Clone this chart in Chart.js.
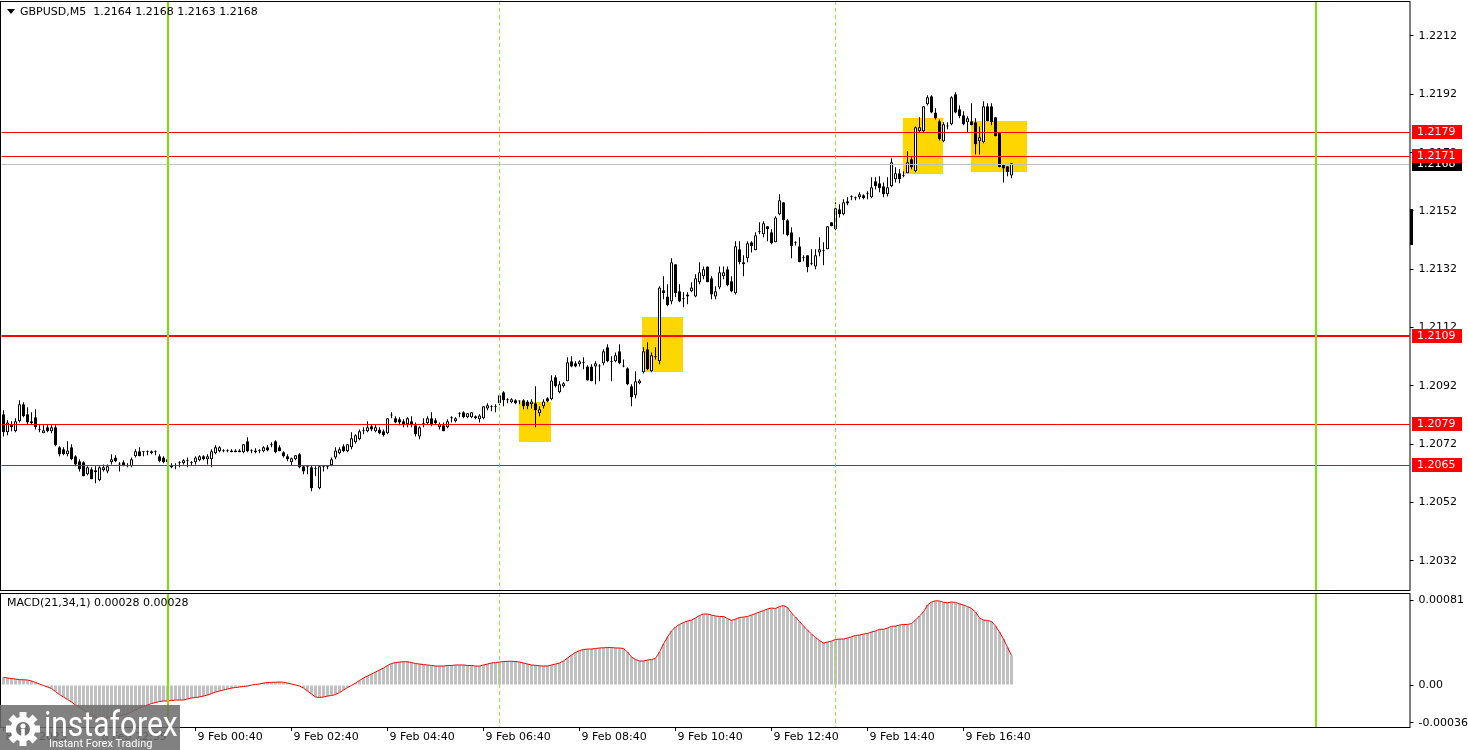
<!DOCTYPE html>
<html>
<head>
<meta charset="utf-8">
<script src="https://cdn.jsdelivr.net/npm/chart.js@4"></script>
<style>
  body { margin: 0; background: #fff; }
  #wrap { position: relative; width: 1468px; height: 750px; overflow: hidden; }
  canvas { position: absolute; left: 0; }
  #main { top: 0; }
  #macd { top: 591px; }
</style>
</head>
<body>
<div id="wrap">
  <canvas id="main" width="1468" height="591"></canvas>
  <canvas id="macd" width="1468" height="159"></canvas>
</div>
<script>
// GBPUSD M5 candles (one slot = one 5 min bar)
const SLOTS = 352;

const opens = [
  1.20823, 1.20761, 1.20789, 1.20765, 1.20799, 1.20857, 1.20823, 1.20792, 1.20813, 1.20768,
  1.20758, 1.20778, 1.20765, 1.20778, 1.20710, 1.20703, 1.20686, 1.20710, 1.20679, 1.20662,
  1.20658, 1.20617, 1.20634, 1.20631, 1.20597, 1.20631, 1.20627, 1.20658, 1.20675, 1.20651,
  1.20658, 1.20645, 1.20645, 1.20679, 1.20696, 1.20693, 1.20693, 1.20689, 1.20693, 1.20679,
  1.20675, 1.20669, 1.20648, 1.20645, 1.20655, 1.20655, 1.20662, 1.20655, 1.20658, 1.20665,
  1.20679, 1.20669, 1.20669, 1.20689, 1.20696, 1.20696, 1.20696, 1.20699, 1.20699, 1.20699,
  1.20693, 1.20730, 1.20696, 1.20693, 1.20696, 1.20696, 1.20710, 1.20717, 1.20730, 1.20710,
  1.20693, 1.20679, 1.20658, 1.20669, 1.20686, 1.20645, 1.20641, 1.20641, 1.20634, 1.20569,
  1.20641, 1.20641, 1.20648, 1.20675, 1.20689, 1.20713, 1.20696, 1.20710, 1.20727, 1.20737,
  1.20765, 1.20765, 1.20782, 1.20765, 1.20771, 1.20765, 1.20758, 1.20819, 1.20809, 1.20806,
  1.20799, 1.20789, 1.20799, 1.20785, 1.20747, 1.20789, 1.20792, 1.20809, 1.20802, 1.20778,
  1.20785, 1.20778, 1.20809, 1.20799, 1.20823, 1.20830, 1.20813, 1.20813, 1.20816, 1.20806,
  1.20809, 1.20843, 1.20847, 1.20847, 1.20861, 1.20898, 1.20871, 1.20864, 1.20871, 1.20867,
  1.20871, 1.20867, 1.20857, 1.20861, 1.20826, 1.20850, 1.20878, 1.20874, 1.20950, 1.20898,
  1.20919, 1.20936, 1.21005, 1.20998, 1.20994, 1.20998, 1.20987, 1.20987, 1.20987, 1.20987,
  1.20998, 1.21053, 1.21001, 1.21005, 1.21039, 1.20987, 1.20981, 1.20919, 1.20888, 1.20929,
  1.20967, 1.21046, 1.20970, 1.21018, 1.21005, 1.21248, 1.21227, 1.21210, 1.21337, 1.21245,
  1.21217, 1.21227, 1.21245, 1.21227, 1.21276, 1.21296, 1.21330, 1.21289, 1.21227, 1.21258,
  1.21296, 1.21320, 1.21279, 1.21238, 1.21389, 1.21337, 1.21358, 1.21413, 1.21385, 1.21447,
  1.21440, 1.21468, 1.21447, 1.21413, 1.21509, 1.21550, 1.21488, 1.21447, 1.21409, 1.21399,
  1.21358, 1.21368, 1.21337, 1.21330, 1.21378, 1.21382, 1.21389, 1.21481, 1.21457, 1.21526,
  1.21509, 1.21553, 1.21567, 1.21564, 1.21567, 1.21574, 1.21577, 1.21567, 1.21622, 1.21615,
  1.21605, 1.21577, 1.21605, 1.21629, 1.21649, 1.21639, 1.21649, 1.21697, 1.21656, 1.21793,
  1.21793, 1.21886, 1.21913, 1.21858, 1.21828, 1.21759, 1.21810, 1.21817, 1.21920, 1.21869,
  1.21848, 1.21824, 1.21828, 1.21824, 1.21759, 1.21756, 1.21879, 1.21879, 1.21841, 1.21790,
  1.21680, 1.21673, 1.21642
];
const highs = [
  1.20837, 1.20802, 1.20799, 1.20809, 1.20871, 1.20864, 1.20847, 1.20830, 1.20840, 1.20785,
  1.20785, 1.20785, 1.20785, 1.20785, 1.20713, 1.20710, 1.20730, 1.20720, 1.20682, 1.20669,
  1.20662, 1.20645, 1.20641, 1.20645, 1.20645, 1.20651, 1.20651, 1.20686, 1.20682, 1.20658,
  1.20665, 1.20655, 1.20675, 1.20703, 1.20710, 1.20696, 1.20699, 1.20699, 1.20699, 1.20686,
  1.20679, 1.20675, 1.20655, 1.20655, 1.20662, 1.20669, 1.20675, 1.20662, 1.20679, 1.20682,
  1.20682, 1.20686, 1.20703, 1.20717, 1.20713, 1.20703, 1.20703, 1.20703, 1.20703, 1.20703,
  1.20720, 1.20744, 1.20703, 1.20706, 1.20703, 1.20713, 1.20717, 1.20727, 1.20734, 1.20717,
  1.20696, 1.20686, 1.20675, 1.20682, 1.20689, 1.20648, 1.20645, 1.20648, 1.20645, 1.20648,
  1.20648, 1.20648, 1.20675, 1.20710, 1.20710, 1.20720, 1.20720, 1.20761, 1.20754, 1.20771,
  1.20778, 1.20799, 1.20789, 1.20789, 1.20778, 1.20771, 1.20809, 1.20830, 1.20816, 1.20813,
  1.20806, 1.20813, 1.20816, 1.20795, 1.20782, 1.20809, 1.20816, 1.20830, 1.20809, 1.20795,
  1.20795, 1.20806, 1.20816, 1.20813, 1.20830, 1.20833, 1.20826, 1.20830, 1.20819, 1.20823,
  1.20850, 1.20861, 1.20854, 1.20857, 1.20895, 1.20902, 1.20878, 1.20878, 1.20874, 1.20871,
  1.20874, 1.20871, 1.20874, 1.20919, 1.20850, 1.20874, 1.20881, 1.20957, 1.20957, 1.20936,
  1.20933, 1.21018, 1.21022, 1.21005, 1.21008, 1.21018, 1.20991, 1.20994, 1.21005, 1.20994,
  1.21046, 1.21063, 1.21022, 1.21035, 1.21063, 1.21011, 1.20984, 1.20926, 1.20970, 1.20943,
  1.21053, 1.21070, 1.21035, 1.21053, 1.21262, 1.21296, 1.21269, 1.21358, 1.21337, 1.21269,
  1.21241, 1.21241, 1.21276, 1.21303, 1.21344, 1.21330, 1.21330, 1.21296, 1.21262, 1.21330,
  1.21330, 1.21330, 1.21296, 1.21416, 1.21416, 1.21368, 1.21416, 1.21416, 1.21447, 1.21481,
  1.21485, 1.21468, 1.21457, 1.21502, 1.21577, 1.21550, 1.21492, 1.21464, 1.21416, 1.21430,
  1.21368, 1.21368, 1.21389, 1.21389, 1.21430, 1.21413, 1.21468, 1.21481, 1.21550, 1.21543,
  1.21560, 1.21567, 1.21574, 1.21570, 1.21584, 1.21577, 1.21588, 1.21636, 1.21636, 1.21639,
  1.21618, 1.21636, 1.21701, 1.21670, 1.21663, 1.21656, 1.21725, 1.21704, 1.21810, 1.21841,
  1.21879, 1.21917, 1.21917, 1.21872, 1.21834, 1.21824, 1.21824, 1.21913, 1.21927, 1.21882,
  1.21862, 1.21845, 1.21889, 1.21838, 1.21810, 1.21896, 1.21889, 1.21889, 1.21841, 1.21790,
  1.21680, 1.21673, 1.21684
];
const lows = [
  1.20747, 1.20751, 1.20765, 1.20761, 1.20795, 1.20813, 1.20789, 1.20789, 1.20771, 1.20761,
  1.20758, 1.20761, 1.20758, 1.20713, 1.20679, 1.20682, 1.20679, 1.20665, 1.20645, 1.20627,
  1.20610, 1.20614, 1.20600, 1.20586, 1.20593, 1.20627, 1.20621, 1.20651, 1.20658, 1.20627,
  1.20645, 1.20641, 1.20641, 1.20675, 1.20679, 1.20679, 1.20682, 1.20686, 1.20682, 1.20658,
  1.20655, 1.20655, 1.20638, 1.20634, 1.20641, 1.20651, 1.20641, 1.20648, 1.20651, 1.20662,
  1.20665, 1.20651, 1.20641, 1.20686, 1.20693, 1.20693, 1.20693, 1.20693, 1.20693, 1.20693,
  1.20689, 1.20693, 1.20689, 1.20689, 1.20689, 1.20693, 1.20696, 1.20710, 1.20689, 1.20696,
  1.20675, 1.20662, 1.20648, 1.20665, 1.20638, 1.20617, 1.20617, 1.20559, 1.20610, 1.20566,
  1.20627, 1.20634, 1.20645, 1.20669, 1.20686, 1.20693, 1.20693, 1.20703, 1.20723, 1.20734,
  1.20754, 1.20761, 1.20765, 1.20761, 1.20754, 1.20747, 1.20754, 1.20809, 1.20792, 1.20785,
  1.20778, 1.20778, 1.20778, 1.20747, 1.20737, 1.20778, 1.20789, 1.20782, 1.20789, 1.20771,
  1.20765, 1.20775, 1.20795, 1.20795, 1.20813, 1.20809, 1.20809, 1.20809, 1.20806, 1.20795,
  1.20806, 1.20837, 1.20833, 1.20830, 1.20854, 1.20850, 1.20861, 1.20861, 1.20857, 1.20857,
  1.20840, 1.20840, 1.20843, 1.20778, 1.20816, 1.20843, 1.20864, 1.20871, 1.20915, 1.20895,
  1.20915, 1.20936, 1.20984, 1.20984, 1.20987, 1.20977, 1.20939, 1.20936, 1.20926, 1.20936,
  1.20991, 1.21001, 1.20936, 1.21001, 1.20994, 1.20984, 1.20922, 1.20850, 1.20878, 1.20926,
  1.20963, 1.20974, 1.20967, 1.21011, 1.20994, 1.21217, 1.21193, 1.21200, 1.21224, 1.21207,
  1.21190, 1.21200, 1.21241, 1.21224, 1.21269, 1.21286, 1.21276, 1.21217, 1.21217, 1.21252,
  1.21286, 1.21262, 1.21241, 1.21234, 1.21337, 1.21296, 1.21344, 1.21378, 1.21385, 1.21440,
  1.21430, 1.21416, 1.21406, 1.21413, 1.21505, 1.21440, 1.21433, 1.21358, 1.21402, 1.21344,
  1.21348, 1.21310, 1.21334, 1.21320, 1.21365, 1.21334, 1.21389, 1.21468, 1.21454, 1.21498,
  1.21505, 1.21540, 1.21557, 1.21557, 1.21560, 1.21560, 1.21560, 1.21564, 1.21594, 1.21584,
  1.21567, 1.21570, 1.21601, 1.21618, 1.21615, 1.21636, 1.21649, 1.21663, 1.21653, 1.21790,
  1.21790, 1.21882, 1.21855, 1.21834, 1.21762, 1.21756, 1.21800, 1.21814, 1.21855, 1.21838,
  1.21814, 1.21790, 1.21814, 1.21714, 1.21714, 1.21752, 1.21828, 1.21814, 1.21776, 1.21670,
  1.21618, 1.21639, 1.21632
];
const closes = [
  1.20761, 1.20795, 1.20778, 1.20799, 1.20857, 1.20816, 1.20795, 1.20799, 1.20778, 1.20768,
  1.20768, 1.20765, 1.20778, 1.20717, 1.20686, 1.20686, 1.20699, 1.20669, 1.20651, 1.20634,
  1.20610, 1.20641, 1.20600, 1.20624, 1.20641, 1.20641, 1.20645, 1.20669, 1.20662, 1.20651,
  1.20648, 1.20645, 1.20669, 1.20696, 1.20679, 1.20693, 1.20693, 1.20696, 1.20693, 1.20662,
  1.20658, 1.20658, 1.20641, 1.20645, 1.20655, 1.20665, 1.20662, 1.20655, 1.20675, 1.20679,
  1.20669, 1.20679, 1.20696, 1.20710, 1.20710, 1.20696, 1.20696, 1.20693, 1.20693, 1.20693,
  1.20720, 1.20696, 1.20696, 1.20699, 1.20696, 1.20710, 1.20699, 1.20717, 1.20693, 1.20696,
  1.20679, 1.20669, 1.20672, 1.20682, 1.20641, 1.20627, 1.20641, 1.20569, 1.20634, 1.20645,
  1.20641, 1.20641, 1.20669, 1.20699, 1.20703, 1.20696, 1.20720, 1.20741, 1.20751, 1.20765,
  1.20765, 1.20778, 1.20771, 1.20778, 1.20758, 1.20751, 1.20809, 1.20819, 1.20795, 1.20795,
  1.20789, 1.20809, 1.20785, 1.20754, 1.20778, 1.20789, 1.20809, 1.20789, 1.20792, 1.20789,
  1.20765, 1.20799, 1.20809, 1.20809, 1.20823, 1.20813, 1.20826, 1.20830, 1.20809, 1.20819,
  1.20850, 1.20854, 1.20847, 1.20847, 1.20888, 1.20871, 1.20871, 1.20874, 1.20861, 1.20867,
  1.20850, 1.20850, 1.20867, 1.20837, 1.20840, 1.20867, 1.20867, 1.20939, 1.20919, 1.20926,
  1.20929, 1.21001, 1.20987, 1.20987, 1.21005, 1.20998, 1.20939, 1.20936, 1.20998, 1.20987,
  1.21039, 1.21005, 1.21001, 1.21025, 1.20998, 1.20987, 1.20926, 1.20881, 1.20936, 1.20939,
  1.21039, 1.20977, 1.21025, 1.21018, 1.21258, 1.21238, 1.21197, 1.21344, 1.21238, 1.21210,
  1.21217, 1.21234, 1.21258, 1.21289, 1.21310, 1.21320, 1.21276, 1.21234, 1.21245, 1.21310,
  1.21310, 1.21265, 1.21245, 1.21399, 1.21344, 1.21344, 1.21409, 1.21399, 1.21437, 1.21447,
  1.21478, 1.21457, 1.21409, 1.21498, 1.21557, 1.21488, 1.21437, 1.21399, 1.21409, 1.21344,
  1.21358, 1.21327, 1.21337, 1.21368, 1.21389, 1.21382, 1.21468, 1.21468, 1.21529, 1.21509,
  1.21550, 1.21546, 1.21567, 1.21564, 1.21577, 1.21564, 1.21577, 1.21601, 1.21605, 1.21598,
  1.21577, 1.21601, 1.21687, 1.21649, 1.21629, 1.21639, 1.21687, 1.21670, 1.21807, 1.21807,
  1.21879, 1.21910, 1.21858, 1.21838, 1.21766, 1.21817, 1.21810, 1.21910, 1.21858, 1.21845,
  1.21817, 1.21838, 1.21814, 1.21749, 1.21773, 1.21879, 1.21828, 1.21824, 1.21776, 1.21670,
  1.21666, 1.21653, 1.21684
];
// MACD(21,34,1) main line, one value per bar
const macd = [
  0.000073, 0.000067, 0.000062, 0.000057, 0.000051, 0.000050, 0.000048, 0.000038, 0.000024, 0.000010,
  -0.000005, -0.000019, -0.000033, -0.000062, -0.000091, -0.000114, -0.000138, -0.000162, -0.000191, -0.000214,
  -0.000238, -0.000262, -0.000286, -0.000310, -0.000314, -0.000314, -0.000314, -0.000310, -0.000305, -0.000295,
  -0.000286, -0.000276, -0.000257, -0.000238, -0.000219, -0.000205, -0.000191, -0.000176, -0.000167, -0.000157,
  -0.000152, -0.000152, -0.000148, -0.000143, -0.000143, -0.000143, -0.000133, -0.000124, -0.000119, -0.000114,
  -0.000105, -0.000095, -0.000081, -0.000067, -0.000057, -0.000048, -0.000038, -0.000029, -0.000024, -0.000019,
  -0.000014, -0.000010, 0.000000, 0.000005, 0.000010, 0.000019, 0.000024, 0.000026, 0.000026, 0.000029,
  0.000026, 0.000019, 0.000010, 0.000000, -0.000010, -0.000029, -0.000057, -0.000086, -0.000114, -0.000119,
  -0.000114, -0.000105, -0.000100, -0.000091, -0.000071, -0.000048, -0.000024, -0.000005, 0.000019, 0.000043,
  0.000067, 0.000086, 0.000105, 0.000124, 0.000143, 0.000162, 0.000186, 0.000205, 0.000214, 0.000219,
  0.000222, 0.000222, 0.000214, 0.000205, 0.000200, 0.000195, 0.000191, 0.000186, 0.000181, 0.000181,
  0.000181, 0.000186, 0.000186, 0.000191, 0.000191, 0.000191, 0.000186, 0.000186, 0.000181, 0.000181,
  0.000191, 0.000200, 0.000210, 0.000214, 0.000219, 0.000224, 0.000226, 0.000226, 0.000224, 0.000219,
  0.000210, 0.000200, 0.000191, 0.000188, 0.000183, 0.000181, 0.000181, 0.000191, 0.000200, 0.000210,
  0.000229, 0.000257, 0.000286, 0.000310, 0.000329, 0.000338, 0.000343, 0.000343, 0.000348, 0.000353,
  0.000355, 0.000357, 0.000357, 0.000353, 0.000353, 0.000348, 0.000314, 0.000267, 0.000243, 0.000229,
  0.000229, 0.000238, 0.000243, 0.000254, 0.000314, 0.000391, 0.000457, 0.000515, 0.000553, 0.000577,
  0.000596, 0.000610, 0.000619, 0.000639, 0.000662, 0.000677, 0.000677, 0.000667, 0.000658, 0.000653,
  0.000653, 0.000634, 0.000615, 0.000629, 0.000643, 0.000648, 0.000653, 0.000667, 0.000681, 0.000696,
  0.000710, 0.000724, 0.000734, 0.000729, 0.000748, 0.000757, 0.000739, 0.000686, 0.000648, 0.000605,
  0.000562, 0.000524, 0.000486, 0.000453, 0.000424, 0.000400, 0.000410, 0.000419, 0.000434, 0.000438,
  0.000438, 0.000448, 0.000460, 0.000472, 0.000476, 0.000486, 0.000491, 0.000505, 0.000515, 0.000531,
  0.000531, 0.000543, 0.000559, 0.000562, 0.000572, 0.000577, 0.000577, 0.000586, 0.000619, 0.000658,
  0.000696, 0.000762, 0.000791, 0.000803, 0.000801, 0.000788, 0.000785, 0.000791, 0.000788, 0.000774,
  0.000762, 0.000748, 0.000729, 0.000696, 0.000639, 0.000619, 0.000615, 0.000605, 0.000562, 0.000505,
  0.000438, 0.000360, 0.000280
];

const priceTicks = [1.2032, 1.2052, 1.2072, 1.2092, 1.2112, 1.2132, 1.2152, 1.2172, 1.2192, 1.2212];
const macdTicks = [-0.00036, 0, 0.00081];
const macdTickText = ['-0.00036', '0.00', '0.00081'];
const timeTickBars = [0, 24, 48, 72, 96, 120, 144, 168, 192, 216, 240];
const timeTickText = ['8 Feb 2023', '8 Feb 22:35', '9 Feb 00:40', '9 Feb 02:40', '9 Feb 04:40', '9 Feb 06:40',
                      '9 Feb 08:40', '9 Feb 10:40', '9 Feb 12:40', '9 Feb 14:40', '9 Feb 16:40'];

// horizontal levels, last bid, signal zones [from bar, to bar, top price, bottom price]
const levels = [1.2179, 1.2171, 1.2109, 1.2079, 1.2065];
const boldLevel = 1.2109;
const bidPrice = 1.2168;
const zones = [
  [128.9, 136.9, 1.20864, 1.20727],
  [159.6, 169.9, 1.21157, 1.20968],
  [224.8, 234.8, 1.21838, 1.21647],
  [241.9, 255.9, 1.21829, 1.21654]
];
const dayMarks = [41, 328];      // solid green separators
const sessionMarks = [124, 208]; // dashed separators
const scaleMarker = [1.21526, 1.21402];

const FONT = '11px "DejaVu Sans"';
Chart.defaults.font.family = 'DejaVu Sans';
Chart.defaults.font.size = 11;
Chart.defaults.color = '#000';

const slotLabels = Array.from({length: SLOTS}, (_, i) => String(i));
const bodies = opens.map((o, i) => [o, closes[i]]);
const wicks = lows.map((l, i) => [l, highs[i]]);
const bodyFill = opens.map((o, i) => closes[i] >= o ? '#ffffff' : '#000000');

// no extra room for overflowing tick labels, the panels sit edge to edge
function noLabelPad(s) {
  s.paddingTop = 0; s.paddingBottom = 0; s.paddingLeft = 0; s.paddingRight = 0;
}

function drawMarks(chart) {
  const {ctx, chartArea: a, scales: {x}} = chart;
  ctx.save();
  ctx.lineWidth = 1;
  ctx.strokeStyle = 'rgb(150,226,70)';
  ctx.setLineDash([4, 3]);
  sessionMarks.forEach(i => {
    const px = Math.floor(x.getPixelForValue(i)) + 0.5;
    ctx.beginPath(); ctx.moveTo(px, a.top); ctx.lineTo(px, a.bottom); ctx.stroke();
  });
  ctx.setLineDash([]);
  ctx.lineWidth = 2;
  ctx.strokeStyle = 'rgb(124,228,0)';
  dayMarks.forEach(i => {
    const px = Math.round(x.getPixelForValue(i));
    ctx.beginPath(); ctx.moveTo(px, a.top); ctx.lineTo(px, a.bottom); ctx.stroke();
  });
  ctx.restore();
}

function drawFrame(chart) {
  const {ctx, chartArea: a} = chart;
  ctx.save();
  ctx.strokeStyle = '#000';
  ctx.lineWidth = 1;
  ctx.strokeRect(0.5, Math.floor(a.top) + 0.5, Math.round(a.right) - 0.5, Math.round(a.bottom) - Math.floor(a.top));
  ctx.restore();
}

function priceTag(ctx, a, y, text, bg) {
  const yy = Math.round(y);
  ctx.fillStyle = bg;
  ctx.fillRect(Math.round(a.right) + 2, yy - 7, 50, 14);
  ctx.fillStyle = '#fff';
  ctx.fillText(text, Math.round(a.right) + 7, yy + 0.5);
}

const mainDecor = {
  id: 'mainDecor',
  beforeDatasetsDraw(chart) {
    const {ctx, scales: {x, y}} = chart;
    ctx.save();
    ctx.fillStyle = '#FFD700';
    zones.forEach(([b0, b1, p0, p1]) => {
      const x0 = Math.round(x.getPixelForValue(b0)), x1 = Math.round(x.getPixelForValue(b1));
      const y0 = Math.round(y.getPixelForValue(p0)), y1 = Math.round(y.getPixelForValue(p1));
      ctx.fillRect(x0, y0, x1 - x0, y1 - y0);
    });
    ctx.restore();
  },
  afterDatasetsDraw(chart) {
    const {ctx, chartArea: a, scales: {y}} = chart;
    ctx.save();
    ctx.strokeStyle = '#C0C0C0';
    ctx.lineWidth = 1;
    let py = Math.round(y.getPixelForValue(bidPrice)) + 0.5;
    ctx.beginPath(); ctx.moveTo(a.left, py); ctx.lineTo(a.right, py); ctx.stroke();
    ctx.strokeStyle = '#FF0000';
    levels.forEach(v => {
      const bold = v === boldLevel;
      ctx.lineWidth = bold ? 2 : 1;
      const p = Math.round(y.getPixelForValue(v)) + (bold ? 0 : 0.5);
      ctx.beginPath(); ctx.moveTo(a.left, p); ctx.lineTo(a.right, p); ctx.stroke();
    });
    ctx.restore();
    drawMarks(chart);
  },
  afterDraw(chart) {
    const {ctx, chartArea: a, scales: {y}} = chart;
    drawFrame(chart);
    ctx.save();
    ctx.font = FONT;
    ctx.textBaseline = 'middle';
    ctx.textAlign = 'left';
    // thick marker on the price scale
    const m0 = Math.round(y.getPixelForValue(scaleMarker[0])), m1 = Math.round(y.getPixelForValue(scaleMarker[1]));
    ctx.fillStyle = '#000';
    ctx.fillRect(Math.round(a.right), m0, 3, m1 - m0);
    priceTag(ctx, a, y.getPixelForValue(bidPrice), bidPrice.toFixed(4), '#000');
    levels.forEach(v => priceTag(ctx, a, y.getPixelForValue(v), v.toFixed(4), '#FF0000'));
    // header
    const n = closes.length - 1;
    ctx.fillStyle = '#000';
    ctx.beginPath(); ctx.moveTo(7, 9); ctx.lineTo(15, 9); ctx.lineTo(11, 14); ctx.closePath(); ctx.fill();
    ctx.fillText('GBPUSD,M5  ' + [opens[n], highs[n], lows[n], closes[n]].map(v => v.toFixed(4)).join(' '), 20, 12.5);
    ctx.restore();
  }
};

function gear(ctx, cx, cy) {
  ctx.save();
  ctx.translate(cx, cy);
  ctx.fillStyle = 'rgba(255,255,255,0.95)';
  for (let k = 0; k < 8; k++) {
    ctx.save(); ctx.rotate(k * Math.PI / 4); ctx.fillRect(-3.5, -17, 7, 8); ctx.restore();
  }
  ctx.beginPath(); ctx.arc(0, 0, 12.5, 0, Math.PI * 2); ctx.fill();
  ctx.fillStyle = 'rgb(112,112,112)';
  ctx.beginPath(); ctx.arc(0, 0, 7, 0, Math.PI * 2); ctx.fill();
  ctx.fillStyle = '#fff';
  ctx.beginPath(); ctx.arc(0, -3, 2.6, 0, Math.PI * 2); ctx.fill();
  ctx.fillRect(-1.8, 0, 3.6, 8);
  ctx.restore();
}

const macdDecor = {
  id: 'macdDecor',
  afterDatasetsDraw(chart) {
    drawMarks(chart);
  },
  afterDraw(chart) {
    const {ctx} = chart;
    drawFrame(chart);
    ctx.save();
    ctx.font = FONT;
    ctx.textBaseline = 'middle';
    ctx.fillStyle = '#000';
    const last = macd[macd.length - 1].toFixed(5);
    ctx.fillText('MACD(21,34,1) ' + last + ' ' + last, 7, 12.5);
    // watermark
    ctx.fillStyle = 'rgba(108,108,108,0.86)';
    ctx.fillRect(0, 114, 180, 45);
    gear(ctx, 23, 138);
    ctx.fillStyle = '#fff';
    ctx.textBaseline = 'alphabetic';
    ctx.save();
    ctx.translate(44, 145);
    ctx.scale(1, 1.18);
    ctx.font = '30px Roboto';
    ctx.fillText('instaforex', 0, 0);
    ctx.restore();
    ctx.font = '11px Roboto';
    ctx.fillText('Instant Forex Trading', 49, 156);
    ctx.restore();
  }
};

const common = {
  responsive: false,
  animation: false,
  devicePixelRatio: 1,
  events: [],
  plugins: {legend: {display: false}, tooltip: {enabled: false}}
};

new Chart(document.getElementById('main'), {
  type: 'bar',
  data: {
    labels: slotLabels,
    datasets: [
      {data: bodies, backgroundColor: bodyFill, borderColor: '#000', borderWidth: 1, borderSkipped: false,
       barThickness: 3, minBarLength: 1, grouped: false, inflateAmount: 0, order: 0},
      {data: wicks, backgroundColor: '#000', borderWidth: 0, barThickness: 1, minBarLength: 1,
       grouped: false, inflateAmount: 0, order: 1}
    ]
  },
  options: {
    ...common,
    layout: {padding: {left: 1.5, top: 1, right: 0, bottom: 1}},
    scales: {
      x: {display: false, offset: true},
      y: {
        position: 'right', min: 1.202203, max: 1.2224,
        afterBuildTicks: s => { s.ticks = priceTicks.map(v => ({value: v})); },
        afterFit: s => { s.width = 58.5; noLabelPad(s); },
        border: {display: false},
        grid: {drawOnChartArea: false, tickLength: 4, color: '#000'},
        ticks: {autoSkip: false, padding: 5, callback: v => Number(v).toFixed(4)}
      }
    }
  },
  plugins: [mainDecor]
});

new Chart(document.getElementById('macd'), {
  type: 'bar',
  data: {
    labels: slotLabels,
    datasets: [
      {type: 'line', data: macd, borderColor: '#FF0000', borderWidth: 1, pointRadius: 0, tension: 0, order: 0},
      {data: macd, backgroundColor: '#C0C0C0', borderWidth: 0, barThickness: 3, grouped: false, inflateAmount: 0, order: 1}
    ]
  },
  options: {
    ...common,
    layout: {padding: {left: 1.5, top: 2, right: 0, bottom: 0}},
    scales: {
      x: {
        offset: true,
        afterBuildTicks: s => { s.ticks = timeTickBars.map(v => ({value: v})); },
        afterFit: s => { s.height = 23; noLabelPad(s); },
        border: {display: false},
        grid: {drawOnChartArea: false, offset: false, tickLength: 4, color: '#000'},
        ticks: {autoSkip: false, maxRotation: 0, minRotation: 0, align: 'start', labelOffset: 2, padding: 0,
                callback: (v, i) => timeTickText[i]}
      },
      y: {
        position: 'right', min: -0.0004, max: 0.000877,
        afterBuildTicks: s => { s.ticks = macdTicks.map(v => ({value: v})); },
        afterFit: s => { s.width = 58.5; noLabelPad(s); },
        border: {display: false},
        grid: {drawOnChartArea: false, tickLength: 4, color: '#000'},
        ticks: {autoSkip: false, padding: 5, callback: (v, i) => macdTickText[i]}
      }
    }
  },
  plugins: [macdDecor]
});
</script>
</body>
</html>
